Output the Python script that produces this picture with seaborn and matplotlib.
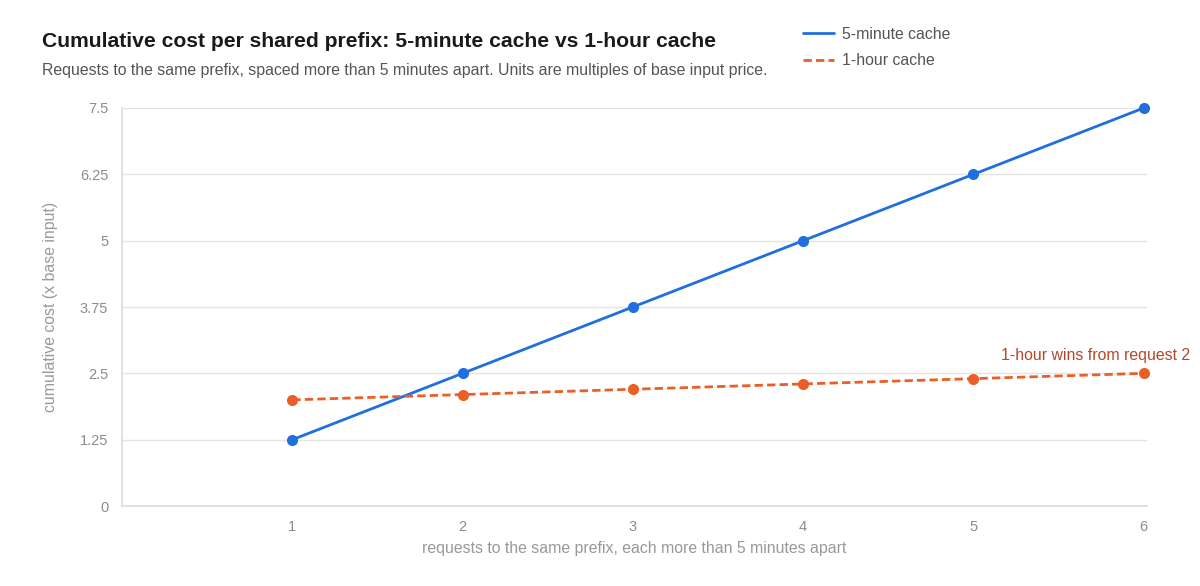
import seaborn as sns
import matplotlib.pyplot as plt
import pandas as pd

# data
requests = [1, 2, 3, 4, 5, 6]
cost_5min = [1.25, 2.5, 3.75, 5.0, 6.25, 7.5]
cost_1hour = [2.0, 2.1, 2.2, 2.3, 2.4, 2.5]
series_names = ["5-minute cache", "1-hour cache"]
y_ticks = [0, 1.25, 2.5, 3.75, 5, 6.25, 7.5]
y_tick_labels = ["0", "1.25", "2.5", "3.75", "5", "6.25", "7.5"]

df = pd.DataFrame({
    "request": requests * 2,
    "cost": cost_5min + cost_1hour,
    "series": [series_names[0]] * len(requests) + [series_names[1]] * len(requests),
})

sns.set_style("white")
plt.rcParams["font.family"] = ["Liberation Sans", "DejaVu Sans"]

fig = plt.figure(figsize=(12, 5.86), dpi=100)
ax = fig.add_axes([0.1017, 0.1365, 0.8542, 0.6792])

palette = {series_names[0]: "#1f6fde", series_names[1]: "#ea5f25"}
sns.lineplot(data=df, x="request", y="cost", hue="series", style="series",
             palette=palette, markers={series_names[0]: "o", series_names[1]: "o"},
             dashes={series_names[0]: "", series_names[1]: (3, 1.5)},
             linewidth=2, markersize=8, markeredgewidth=0, ax=ax, clip_on=False)

ax.set_xlim(0, 6.02)
ax.set_ylim(0, 7.5)
ax.set_xticks(requests)
ax.set_yticks(y_ticks)
ax.set_yticklabels(y_tick_labels)
ax.tick_params(axis="both", length=0, labelsize=10.5, labelcolor="#8c8c8c", pad=10)
ax.grid(axis="y", color="#e4e4e4", linewidth=1)
ax.set_axisbelow(True)
for side in ["top", "right"]:
    ax.spines[side].set_visible(False)
for side in ["left", "bottom"]:
    ax.spines[side].set_color("#dcdcdc")
    ax.spines[side].set_linewidth(1.2)

ax.set_xlabel("requests to the same prefix, each more than 5 minutes apart",
              fontsize=11.4, color="#999999", labelpad=5)
ax.set_ylabel("cumulative cost (x base input)", fontsize=11.4, color="#999999", labelpad=16)

ax.annotate("1-hour wins from request 2", xy=(6, 2.5), xytext=(46, 18),
            textcoords="offset pixels", ha="right", va="center",
            fontsize=11.4, color="#b3482a")

handles, labels = ax.get_legend_handles_labels()
ax.legend(handles=handles, labels=labels, loc="upper left",
          bbox_to_anchor=(0.657, 0.979), bbox_transform=fig.transFigure,
          frameon=False, fontsize=11.4, labelcolor="#555555",
          handlelength=2.0, handletextpad=0.5, labelspacing=0.75)
for line in ax.get_legend().get_lines():
    line.set_marker("")

fig.text(0.035, 0.93, "Cumulative cost per shared prefix: 5-minute cache vs 1-hour cache",
         fontsize=15.2, fontweight="bold", color="#1a1a1a", va="center")
fig.text(0.035, 0.88, "Requests to the same prefix, spaced more than 5 minutes apart. "
         "Units are multiples of base input price.",
         fontsize=11.4, color="#555555", va="center")

fig.savefig("out.png", dpi=100)
